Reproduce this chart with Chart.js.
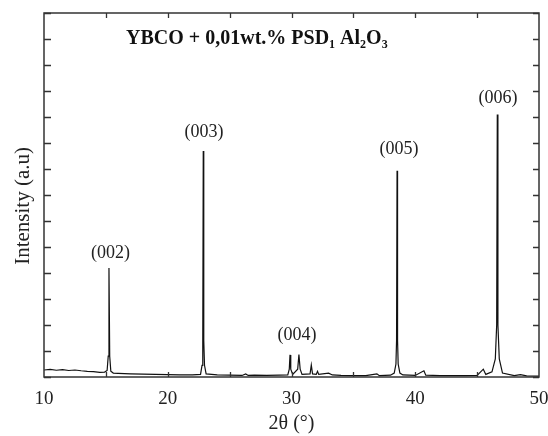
<!DOCTYPE html>
<html>
<head>
<meta charset="utf-8">
<script src="https://cdn.jsdelivr.net/npm/chart.js@4.4.1/dist/chart.umd.min.js"></script>
<style>
  html, body { margin: 0; padding: 0; background: #fff; }
  canvas { display: block; }
</style>
</head>
<body>
<canvas id="myChart" width="548" height="436" style="width:548px;height:436px"></canvas>
<script>
// XRD pattern (2theta in degrees, intensity in axis units 0..14)
const twoTheta = [
  10.0, 10.5, 11.0, 11.5, 12.0, 12.5, 13.0, 13.5, 14.0, 14.5, 14.9,
  15.1, 15.19, 15.25, 15.31, 15.4, 15.6, 16.0, 17.0, 18.0, 19.0, 20.0, 21.0, 22.0,
  22.65, 22.77, 22.83, 22.87, 22.91, 22.97, 23.1, 24.0, 25.0, 26.0, 26.3, 26.5, 27.0, 28.0, 29.0,
  29.7, 29.82, 29.88, 29.94, 30.1, 30.5, 30.6, 30.7, 30.85, 31.5, 31.6, 31.7,
  32.0, 32.1, 32.2, 33.0, 33.3, 34.0, 35.0, 36.0, 36.9, 37.1, 38.0,
  38.3, 38.44, 38.49, 38.53, 38.57, 38.62, 38.76, 39.0, 40.0, 40.7, 40.85, 42.0, 43.0, 44.0, 45.0,
  45.5, 45.7, 46.2, 46.47, 46.58, 46.63, 46.68, 46.79, 47.05, 48.0, 48.5, 49.0, 50.0
];
const intensity = [
  0.27, 0.29, 0.26, 0.28, 0.25, 0.27, 0.24, 0.22, 0.21, 0.18, 0.19,
  0.25, 0.8, 4.19, 0.8, 0.22, 0.15, 0.14, 0.12, 0.11, 0.1, 0.09, 0.08, 0.08,
  0.1, 0.45, 1.4, 8.69, 1.4, 0.45, 0.12, 0.08, 0.07, 0.06, 0.12, 0.06, 0.07, 0.06, 0.07,
  0.08, 0.3, 0.85, 0.3, 0.1, 0.3, 0.86, 0.3, 0.1, 0.12, 0.46, 0.12,
  0.1, 0.22, 0.1, 0.15, 0.08, 0.06, 0.05, 0.05, 0.12, 0.05, 0.07,
  0.15, 0.5, 1.4, 7.93, 1.4, 0.5, 0.15, 0.08, 0.06, 0.24, 0.07, 0.05, 0.05, 0.05, 0.06,
  0.3, 0.1, 0.2, 0.7, 2.0, 10.1, 2.0, 0.7, 0.15, 0.05, 0.09, 0.04, 0.03
];

// Peak labels and where they sit (data units)
const peakLabels = ['(002)', '(003)', '(004)', '(005)', '(006)'];
const labelX = [15.38, 22.93, 30.44, 38.69, 46.69];
const labelY = [4.77, 9.42, 1.62, 8.77, 10.73];

const xTicks = [10, 20, 30, 40, 50];

const points = twoTheta.map((t, i) => ({ x: t, y: intensity[i] }));

const serif = '"Liberation Serif", "Times New Roman", serif';

// frame, inward ticks and in-plot texts
const decor = {
  id: 'decor',
  afterDatasetsDraw(chart) {
    const { ctx, chartArea: a, scales: { x, y } } = chart;
    ctx.save();
    ctx.strokeStyle = '#333';
    ctx.lineWidth = 1.5;
    ctx.strokeRect(a.left, a.top, a.right - a.left, a.bottom - a.top);

    ctx.lineWidth = 1.3;
    ctx.beginPath();
    for (let v = 0; v <= 14; v++) {
      const py = Math.round(y.getPixelForValue(v)) + 0.5;
      ctx.moveTo(a.left, py); ctx.lineTo(a.left + 7, py);
      ctx.moveTo(a.right, py); ctx.lineTo(a.right - 6, py);
    }
    for (let v = 15; v < 50; v += 5) {
      const px = Math.round(x.getPixelForValue(v)) + 0.5;
      ctx.moveTo(px, a.bottom); ctx.lineTo(px, a.bottom - 5);
      ctx.moveTo(px, a.top); ctx.lineTo(px, a.top + 5);
    }
    ctx.stroke();

    // y axis title, a little below the middle as in the source
    ctx.save();
    ctx.translate(23, y.getPixelForValue(6.58));
    ctx.rotate(-Math.PI / 2);
    ctx.fillStyle = '#222';
    ctx.font = '21px ' + serif;
    ctx.textAlign = 'center';
    ctx.textBaseline = 'middle';
    ctx.fillText('Intensity (a.u)', 0, 0);
    ctx.restore();

    // peak labels
    ctx.fillStyle = '#222';
    ctx.font = '18px ' + serif;
    ctx.textAlign = 'center';
    ctx.textBaseline = 'middle';
    peakLabels.forEach((s, i) => {
      ctx.fillText(s, x.getPixelForValue(labelX[i]), y.getPixelForValue(labelY[i]));
    });

    // title with subscripts
    const parts = [
      ['YBCO + 0,01wt.% PSD', false], ['1', true], [' Al', false],
      ['2', true], ['O', false], ['3', true]
    ];
    const big = 'bold 20px ' + serif;
    const small = 'bold 12px ' + serif;
    let total = 0;
    parts.forEach(([s, sub]) => { ctx.font = sub ? small : big; total += ctx.measureText(s).width; });
    let cx = x.getPixelForValue(27.2) - total / 2;
    const base = y.getPixelForValue(12.8);
    ctx.textAlign = 'left';
    ctx.textBaseline = 'alphabetic';
    ctx.fillStyle = '#111';
    parts.forEach(([s, sub]) => {
      ctx.font = sub ? small : big;
      ctx.fillText(s, cx, sub ? base + 4 : base);
      cx += ctx.measureText(s).width;
    });
    ctx.restore();
  }
};

const ctx = document.getElementById('myChart').getContext('2d');

new Chart(ctx, {
  type: 'line',
  data: {
    datasets: [{
      data: points,
      borderColor: '#111',
      borderWidth: 1.2,
      pointRadius: 0,
      tension: 0,
      fill: false
    }]
  },
  options: {
    responsive: false,
    animation: false,
    layout: { padding: { top: 13, right: 9, left: 0, bottom: 0 } },
    plugins: {
      legend: { display: false },
      tooltip: { enabled: false }
    },
    scales: {
      x: {
        type: 'linear',
        min: 10,
        max: 50,
        afterBuildTicks: s => { s.ticks = xTicks.map(v => ({ value: v })); },
        afterFit: s => { s.height = 59; s.paddingLeft = 0; s.paddingRight = 0; },
        grid: { display: false, drawTicks: false },
        border: { display: false },
        ticks: {
          padding: 11,
          color: '#222',
          font: { family: serif, size: 19 }
        },
        title: {
          display: true,
          text: '2θ (°)',
          color: '#222',
          padding: { top: 0, bottom: 0 },
          font: { family: serif, size: 20 }
        }
      },
      y: {
        min: 0,
        max: 14,
        afterFit: s => { s.width = 44; s.paddingTop = 0; s.paddingBottom = 0; },
        grid: { display: false, drawTicks: false },
        border: { display: false },
        ticks: { display: false, stepSize: 1 }
      }
    }
  },
  plugins: [decor]
});
</script>
</body>
</html>
